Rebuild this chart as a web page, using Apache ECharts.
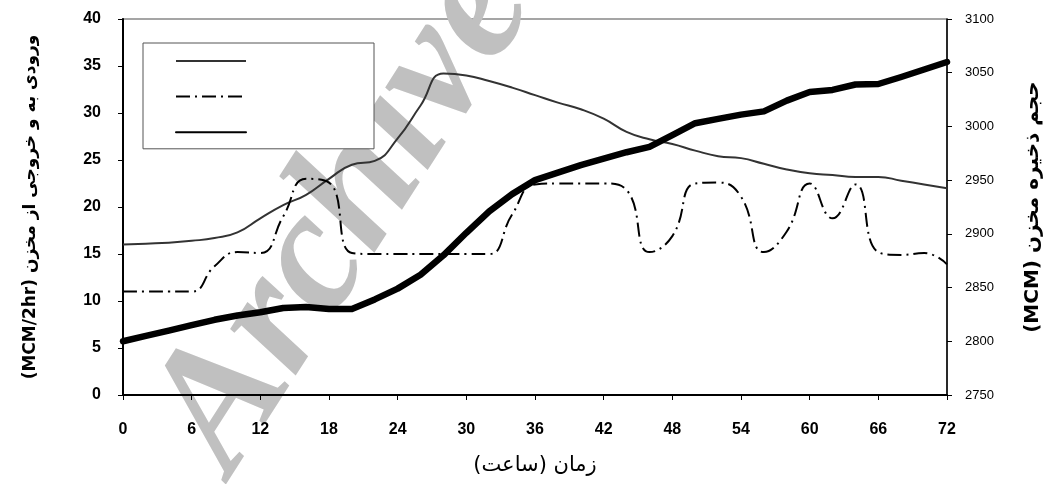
<!DOCTYPE html>
<html>
<head>
<meta charset="utf-8">
<script src="https://cdn.jsdelivr.net/npm/echarts@6/dist/echarts.min.js"></script>
<style>
  html, body { margin: 0; padding: 0; background: #fff; }
  #chart { width: 1060px; height: 484px; }
</style>
</head>
<body>
<div id="chart"></div>
<script>
// ساعت (every 2 hr)
const hours = [0, 2, 4, 6, 8, 10, 12, 14, 16, 18, 20, 22, 24, 26, 28, 30, 32, 34, 36,
    38, 40, 42, 44, 46, 48, 50, 52, 54, 56, 58, 60, 62, 64, 66, 68, 70, 72];
// ورودی (MCM/2hr)
const inflow = [16.0, 16.1, 16.2, 16.4, 16.7, 17.3, 18.8, 20.2, 21.3, 23.0, 24.5, 24.9, 27.3,
    30.8, 34.2, 34.0, 33.4, 32.7, 31.9, 31.1, 30.4, 29.4, 28.0, 27.2, 26.7, 26.0, 25.4, 25.2,
    24.6, 24.0, 23.6, 23.4, 23.2, 23.2, 22.8, 22.4, 22.0];
// خروجی (MCM/2hr)
const outflow = [11.0, 11.0, 11.0, 11.0, 13.7, 15.2, 15.1, 19.0, 23.0, 22.6, 15.1, 15.0, 15.0,
    15.0, 15.0, 15.0, 15.0, 19.2, 22.4, 22.5, 22.5, 22.5, 21.8, 15.2, 16.9, 22.5, 22.6, 21.1,
    15.2, 17.4, 22.5, 18.8, 22.4, 15.2, 14.9, 15.1, 13.9];
// حجم ذخیره (MCM)
const storage = [2800, 2805, 2810, 2815, 2820, 2824, 2827, 2831, 2832, 2830, 2830, 2839, 2849,
    2862, 2880, 2901, 2921, 2937, 2950, 2957, 2964, 2970, 2976, 2981, 2992, 3003, 3007, 3011,
    3014, 3024, 3032, 3034, 3039, 3039.5, 3046, 3053, 3060];

const pairs = (vals) => hours.map((h, i) => [h, vals[i]]);
// متن راست به چپ
const rtl = (s) => '\u202B' + s + '\u202C';

const chart = echarts.init(document.getElementById('chart'));

const option = {
    animation: false,
    grid: {
        left: 123, right: 113, top: 19, bottom: 89,
        show: true,
        borderColor: '#888',
        borderWidth: 1.5
    },
    legend: {
        left: 143, top: 43,
        orient: 'vertical',
        itemWidth: 70,
        itemHeight: 14,
        itemGap: 23,
        padding: [11, 127, 11, 32],
        borderColor: '#555',
        borderWidth: 1,
        backgroundColor: '#fff',
        itemStyle: { opacity: 0 },
        formatter: () => '',
        selectedMode: false
    },
    graphic: [{
        type: 'text',
        x: 345, y: 215,
        rotation: 1.0,
        z: 0,
        silent: true,
        style: {
            text: 'Archive',
            font: 'italic bold 175px "Liberation Serif"',
            fill: '#c0c0c0',
            textAlign: 'center',
            textVerticalAlign: 'middle'
        }
    }],
    xAxis: {
        type: 'value',
        min: 0, max: 72, interval: 6,
        splitLine: { show: false },
        axisLine: { lineStyle: { color: '#000', width: 2 } },
        axisTick: { length: 5, lineStyle: { color: '#000' } },
        axisLabel: {
            margin: 27, color: '#000',
            fontFamily: 'Liberation Sans', fontWeight: 'bold', fontSize: 16
        },
        name: rtl('زمان (ساعت)'),
        nameLocation: 'middle',
        nameGap: 60,
        nameTextStyle: { color: '#000', fontFamily: 'DejaVu Sans', fontSize: 21 }
    },
    yAxis: [{
        type: 'value',
        min: 0, max: 40, interval: 5,
        splitLine: { show: false },
        axisLine: { show: true, lineStyle: { color: '#000', width: 2 } },
        axisTick: { show: true, length: 5, lineStyle: { color: '#000' } },
        axisLabel: {
            margin: 22, color: '#000',
            fontFamily: 'Liberation Sans', fontWeight: 'bold', fontSize: 16
        },
        name: rtl('ورودی به و خروجی از مخزن (MCM/2hr)'),
        nameLocation: 'middle',
        nameRotate: 90,
        nameGap: 84,
        nameTextStyle: { color: '#000', fontFamily: 'DejaVu Sans', fontWeight: 'bold', fontSize: 17 }
    }, {
        type: 'value',
        position: 'right',
        min: 2750, max: 3100, interval: 50,
        splitLine: { show: false },
        axisLine: { show: true, lineStyle: { color: '#000', width: 1.5 } },
        axisTick: { show: true, length: 5, lineStyle: { color: '#000' } },
        axisLabel: {
            margin: 18, color: '#000',
            fontFamily: 'Liberation Sans', fontSize: 13,
            formatter: (v) => String(v)
        },
        name: rtl('حجم ذخیره مخزن (MCM)'),
        nameLocation: 'middle',
        nameRotate: 90,
        nameGap: 76,
        nameTextStyle: { color: '#000', fontFamily: 'DejaVu Sans', fontWeight: 'bold', fontSize: 20 }
    }],
    series: [{
        name: 'ورودی',
        type: 'line',
        yAxisIndex: 0,
        data: pairs(inflow),
        smooth: 0.5,
        symbol: 'none',
        lineStyle: { color: '#333', width: 2 },
        itemStyle: { color: '#333' }
    }, {
        name: 'خروجی',
        type: 'line',
        yAxisIndex: 0,
        data: pairs(outflow),
        smooth: 0.5,
        symbol: 'none',
        lineStyle: { color: '#000', width: 2, type: [14, 5, 2, 5] },
        itemStyle: { color: '#000' }
    }, {
        name: 'حجم ذخیره',
        type: 'line',
        yAxisIndex: 1,
        data: pairs(storage),
        symbol: 'none',
        lineStyle: { color: '#000', width: 6.5, cap: 'round', join: 'round' },
        itemStyle: { color: '#000' }
    }]
};

chart.setOption(option);
</script>
</body>
</html>
